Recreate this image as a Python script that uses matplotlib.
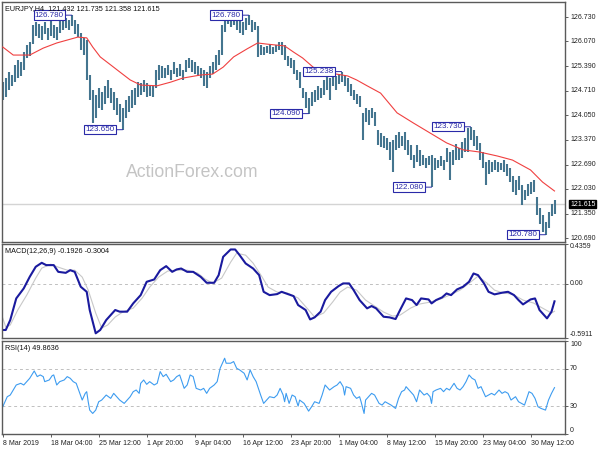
import numpy as np
import matplotlib
matplotlib.use('Agg')
import matplotlib.pyplot as plt
import matplotlib.transforms as mtransforms

plt.rcParams['font.family'] = ['Liberation Sans', 'DejaVu Sans']

# EURJPY H4 - high/low of every second bar (bar index step 2)
high = [124.95, 125.06, 125.23, 125.15, 125.42, 125.56, 125.50, 125.77, 125.97, 126.05,
        126.51, 126.59, 126.54, 126.48, 126.59, 126.43, 126.65, 126.51, 126.46, 126.65,
        126.73, 126.70, 126.65, 126.78, 126.65, 126.54, 126.29, 126.16, 126.10, 125.15,
        124.74, 124.60, 124.79, 124.68, 124.84, 125.01, 124.79, 124.68, 124.52, 124.35,
        124.24, 124.46, 124.57, 124.74, 124.79, 124.95, 124.92, 125.01, 124.92, 124.87,
        124.84, 125.28, 125.42, 125.39, 125.34, 125.42, 125.28, 125.50, 125.34, 125.45,
        125.28, 125.55, 125.61, 125.55, 125.50, 125.39, 125.34, 125.28, 125.23, 125.39,
        125.50, 125.69, 125.83, 126.51, 126.76, 126.78, 126.73, 126.70, 126.70, 126.65,
        126.59, 126.70, 126.78, 126.65, 126.59, 126.48, 125.96, 125.91, 125.94, 125.99,
        125.91, 125.96, 126.05, 126.05, 125.96, 125.66, 125.61, 125.56, 125.28, 125.23,
        124.79, 124.68, 124.52, 124.68, 124.74, 124.84, 124.79, 125.01, 125.15, 125.06,
        125.17, 125.12, 125.17, 125.24, 125.15, 125.06, 124.90, 124.74, 124.63, 124.57,
        124.11, 124.24, 124.19, 124.24, 124.13, 123.64, 123.56, 123.48, 123.42, 123.31,
        123.37, 123.51, 123.59, 123.48, 123.59, 123.37, 123.23, 122.96, 123.23, 123.10,
        122.96, 122.88, 122.93, 122.96, 122.88, 122.82, 122.93, 122.82, 123.15, 123.04,
        123.10, 123.26, 123.15, 123.31, 123.42, 123.70, 123.73, 123.64, 123.48, 123.29,
        123.04, 122.77, 122.82, 122.77, 122.82, 122.77, 122.74, 122.82, 122.71, 122.60,
        122.38, 122.27, 122.38, 122.14, 122.00, 122.17, 122.22, 122.27, 121.81, 121.51,
        121.32, 121.13, 121.40, 121.62, 121.735]
low = [124.46, 124.54, 124.74, 124.85, 124.95, 125.06, 125.12, 125.28, 125.61, 125.67,
       125.99, 126.21, 126.16, 126.10, 126.27, 126.10, 126.21, 126.16, 126.10, 126.29,
       126.37, 126.43, 126.37, 126.48, 126.27, 126.18, 125.83, 125.69, 125.01, 124.46,
       123.83, 123.97, 124.24, 124.19, 124.35, 124.52, 124.38, 124.19, 124.05, 123.86,
       123.65, 123.97, 124.13, 124.24, 124.32, 124.54, 124.60, 124.68, 124.54, 124.57,
       124.54, 124.79, 125.01, 125.06, 125.06, 125.15, 125.01, 125.17, 125.09, 125.12,
       125.01, 125.23, 125.34, 125.23, 125.17, 125.12, 125.06, 124.84, 124.79, 125.06,
       125.17, 125.28, 125.42, 125.69, 126.32, 126.54, 126.46, 126.51, 126.37, 126.29,
       126.24, 126.37, 126.51, 126.32, 126.37, 125.64, 125.69, 125.69, 125.75, 125.72,
       125.72, 125.77, 125.83, 125.69, 125.56, 125.39, 125.34, 125.17, 125.01, 124.79,
       124.52, 124.24, 124.09, 124.30, 124.41, 124.46, 124.52, 124.60, 124.74, 124.46,
       124.84, 124.74, 124.90, 124.95, 124.84, 124.68, 124.57, 124.46, 124.35, 124.27,
       123.37, 123.86, 123.78, 123.97, 123.75, 123.23, 123.18, 123.15, 123.10, 122.82,
       122.49, 123.10, 123.15, 123.20, 123.10, 122.96, 122.82, 122.60, 122.77, 122.66,
       122.69, 122.60, 122.69, 122.08, 122.55, 122.60, 122.66, 122.55, 122.77, 122.27,
       122.69, 122.82, 122.82, 122.88, 123.04, 123.04, 123.37, 123.20, 123.10, 122.82,
       122.60, 122.14, 122.44, 122.49, 122.55, 122.49, 122.55, 122.49, 122.38, 122.22,
       121.95, 121.87, 122.00, 121.59, 121.73, 121.84, 121.89, 121.95, 121.32, 121.07,
       120.85, 120.78, 120.96, 121.29, 121.358]
last_close = 121.615

# red moving average (bar index, value)
ma_bar = [0, 7, 18, 27, 36, 43, 50, 56, 60, 65, 72, 78, 85, 92, 103, 112, 120, 132, 140, 147,
          154, 163, 170, 176, 188, 194, 200, 207, 218, 230, 236, 243, 252, 263, 274, 285, 296,
          307, 318, 330, 340, 352, 360, 368]
ma_val = [125.91, 125.69, 125.69, 125.88, 126.02, 126.10, 126.18, 126.16, 125.91, 125.64,
          125.42, 125.23, 125.01, 124.87, 124.85, 124.95, 125.06, 125.145, 125.17, 125.36,
          125.64, 125.86, 126.02, 125.99, 125.94, 125.77, 125.61, 125.36, 125.20, 125.12,
          125.01, 124.85, 124.65, 124.11, 123.83, 123.56, 123.29, 123.10, 123.04, 122.93,
          122.82, 122.55, 122.22, 121.975]

# MACD(12,26,9)
macd_bar = [0, 2, 5, 9, 14, 18, 22, 26, 29, 34, 37, 42, 45, 48, 52, 56, 58, 62, 65, 69,
            75, 78, 83, 87, 92, 96, 101, 105, 109, 113, 116, 119, 123, 127, 132, 136, 141,
            144, 147, 152, 155, 158, 162, 167, 171, 174, 178, 183, 186, 189, 194, 197, 202,
            205, 208, 212, 215, 219, 224, 227, 231, 234, 238, 243, 246, 249, 254, 258, 262,
            265, 269, 273, 276, 279, 284, 286, 289, 293, 296, 299, 303, 307, 311, 314, 317,
            321, 324, 328, 333, 337, 341, 344, 347, 352, 355, 358, 363, 366, 368]
macd_val = [-0.504, -0.504, -0.396, -0.161, -0.052, 0.074, 0.183, 0.226, 0.201, 0.201,
            0.128, 0.117, 0.146, 0.128, -0.034, -0.089, -0.287, -0.540, -0.504, -0.396,
            -0.287, -0.305, -0.305, -0.215, -0.125, 0.020, 0.045, 0.146, 0.190, 0.128,
            0.154, 0.164, 0.128, 0.128, 0.074, 0.009, 0.009, 0.092, 0.291, 0.371,
            0.371, 0.309, 0.219, 0.164, 0.092, -0.089, -0.125, -0.114, -0.089, -0.107,
            -0.136, -0.233, -0.287, -0.389, -0.367, -0.305, -0.179, -0.089, -0.027, 0.002,
            0.002, -0.070, -0.179, -0.269, -0.244, -0.269, -0.360, -0.367, -0.385, -0.287,
            -0.161, -0.179, -0.233, -0.161, -0.172, -0.215, -0.179, -0.150, -0.107, -0.125,
            -0.063, -0.034, 0.020, 0.110, 0.092, 0.002, -0.089, -0.117, -0.099, -0.089,
            -0.125, -0.179, -0.226, -0.172, -0.161, -0.287, -0.378, -0.305, -0.1926]
signal_bar = [0, 2, 5, 10, 16, 22, 26, 32, 37, 43, 48, 53, 57, 62, 66, 70, 75, 80, 87, 93,
              98, 104, 110, 116, 123, 130, 135, 140, 146, 152, 156, 162, 167, 173, 177, 183,
              190, 197, 204, 208, 214, 220, 225, 230, 236, 242, 247, 254, 260, 265, 272, 278,
              285, 292, 298, 305, 312, 317, 323, 328, 334, 340, 347, 354, 360, 366, 368]
signal_val = [-0.374, -0.472, -0.450, -0.287, -0.125, 0.060, 0.168, 0.211, 0.179, 0.146,
              0.146, 0.071, -0.071, -0.320, -0.483, -0.450, -0.363, -0.309, -0.266, -0.157,
              -0.038, 0.071, 0.136, 0.146, 0.146, 0.114, 0.049, 0.005, 0.060, 0.233,
              0.331, 0.309, 0.222, 0.071, -0.038, -0.092, -0.103, -0.157, -0.287, -0.363,
              -0.320, -0.201, -0.092, -0.038, -0.071, -0.179, -0.233, -0.309, -0.353, -0.342,
              -0.266, -0.222, -0.201, -0.168, -0.125, -0.071, 0.016, 0.081, 0.005, -0.071,
              -0.103, -0.114, -0.179, -0.211, -0.266, -0.320, -0.3004]

# RSI(14)
rsi_bar = [0, 1, 3, 5, 7, 9, 12, 14, 16, 18, 21, 23, 25, 27, 28, 31, 33, 34, 36, 38,
           41, 43, 45, 47, 49, 51, 53, 55, 56, 57, 58, 60, 62, 64, 66, 69, 72, 74, 76, 78,
           81, 83, 85, 87, 89, 91, 92, 94, 96, 98, 101, 103, 105, 107, 109, 112, 114, 116, 118, 121,
           123, 125, 127, 129, 132, 134, 136, 138, 141, 143, 145, 148, 149, 152, 154, 156, 158, 161, 163, 165,
           167, 169, 172, 174, 176, 178, 181, 183, 185, 187, 188, 189, 191, 193, 195, 197, 198, 201, 203, 204,
           206, 208, 211, 213, 215, 217, 218, 221, 223, 225, 227, 228, 229, 232, 234, 236, 238, 239, 241, 242,
           244, 246, 248, 251, 253, 255, 257, 259, 262, 264, 266, 268, 269, 272, 274, 276, 278, 281, 283, 285,
           286, 287, 289, 292, 294, 296, 298, 301, 303, 305, 307, 309, 311, 313, 315, 317, 319, 322, 324, 326,
           328, 331, 333, 335, 337, 339, 342, 344, 346, 348, 351, 353, 355, 357, 359, 362, 363, 364, 366, 368]
rsi_val = [29.3, 32.9, 40.1, 41.9, 47.3, 52.7, 54.5, 52.7, 56.3, 59.9, 67.8, 61.7, 63.5, 61.7, 56.3, 58.1, 62.8, 63.5, 52.7, 56.3,
           58.1, 61.7, 59.9, 56.3, 54.5, 45.5, 36.5, 43.7, 45.5, 34.7, 25.7, 22.1, 25.7, 34.7, 36.5, 41.9, 38.3, 43.7, 40.1, 36.5,
           32.9, 36.5, 40.1, 45.5, 47.3, 43.7, 54.5, 58.1, 53.4, 56.3, 52.7, 54.5, 67.1, 61.7, 64.2, 56.3, 58.1, 61.7, 63.5, 49.1,
           52.7, 63.5, 61.7, 49.1, 47.3, 49.1, 43.7, 49.1, 52.7, 56.3, 70.7, 81.5, 76.1, 76.1, 77.9, 70.7, 68.9, 65.3, 58.1, 68.9,
           61.7, 56.3, 41.9, 32.9, 36.5, 40.1, 39.0, 41.9, 49.1, 41.9, 34.7, 43.7, 32.9, 41.9, 40.1, 30.0, 36.5, 32.9, 27.5, 24.6,
           29.3, 34.7, 32.9, 41.9, 52.7, 49.1, 47.3, 50.9, 52.7, 56.3, 50.9, 41.9, 50.9, 49.1, 41.9, 38.3, 40.1, 34.7, 22.1, 36.5,
           40.1, 43.7, 41.9, 32.9, 31.1, 34.7, 32.9, 31.1, 27.5, 38.3, 45.5, 47.3, 50.9, 45.5, 41.9, 34.7, 47.3, 41.9, 43.7, 40.1,
           32.9, 45.5, 47.3, 49.1, 45.5, 49.1, 47.3, 54.5, 49.1, 47.3, 50.9, 56.3, 63.5, 59.9, 58.1, 49.1, 50.9, 40.1, 41.9, 43.7,
           41.9, 47.3, 43.7, 45.5, 43.7, 36.5, 40.1, 34.7, 32.9, 31.1, 45.5, 43.7, 38.3, 29.3, 27.5, 25.7, 31.1, 36.5, 43.7, 49.86]

# swing high / low labels
swing_bar = [46, 80, 164, 204, 226, 286, 312, 362]
swing_price = [126.780, 123.650, 126.780, 124.090, 125.238, 122.080, 123.730, 120.780]

price_ticks = [126.730, 126.070, 125.390, 124.710, 124.050, 123.370, 122.690, 122.030, 121.350, 120.690]
macd_ticks = [0.4359, 0.0, -0.5911]
macd_tick_labels = ['0.4359', '0.00', '-0.5911']
rsi_ticks = [100, 70, 30, 0]
date_ticks = [0, 32, 64, 96, 128, 160, 192, 224, 256, 288, 320, 352]
date_labels = ['8 Mar 2019', '18 Mar 04:00', '25 Mar 12:00', '1 Apr 20:00', '9 Apr 04:00',
               '16 Apr 12:00', '23 Apr 20:00', '1 May 04:00', '8 May 12:00', '15 May 20:00',
               '23 May 04:00', '30 May 12:00']

bar_x = np.arange(len(high)) * 2

W, H = 600, 450
fig = plt.figure(figsize=(6, 4.5), dpi=100)
fig.patch.set_facecolor('white')

def panel(top, bottom):
    return fig.add_axes([2 / W, 1 - bottom / H, 563 / W, (bottom - top) / H])

ax1 = panel(2, 242)
ax2 = panel(243.5, 338)
ax3 = panel(341, 434)

for ax in (ax1, ax2, ax3):
    ax.set_xlim(-0.5, 375)
    for s in ax.spines.values():
        s.set_color('#5a5a5a')
        s.set_linewidth(1.0)
    ax.tick_params(axis='y', which='both', left=False, right=True, labelleft=False,
                   labelright=False, length=2.5, width=0.6, color='#444444', direction='out')

def right_label(ax, val, txt, va='center'):
    tr = mtransforms.blended_transform_factory(ax.transAxes, ax.transData)
    ax.text(1 + 5 / 563, val, txt, transform=tr, ha='left', va=va, fontsize=5.0,
            color='#222222', clip_on=False)

# main price panel
ax1.set_ylim(120.581, 127.14)
ax1.axhline(last_close, color='#d4d4d4', lw=1.0, zorder=1)
ax1.vlines(bar_x, low, high, color='#44758f', lw=1.5, zorder=2)
ax1.plot(ma_bar, ma_val, color='#f04040', lw=0.8, zorder=3)
ax1.set_yticks(price_ticks)
ax1.set_xticks([])
for p in price_ticks:
    right_label(ax1, p, f'{p:.3f}')
tr1 = mtransforms.blended_transform_factory(ax1.transAxes, ax1.transData)
ax1.text(1 + 5 / 563, last_close, f'{last_close:.3f}', transform=tr1, ha='left', va='center',
         fontsize=5.0, color='white', clip_on=False,
         bbox=dict(boxstyle='square,pad=0.12', fc='black', ec='black'))

for b, p in zip(swing_bar, swing_price):
    ax1.annotate(f'{p:.3f}', xy=(b, p), xytext=(-8, 0), textcoords='offset pixels',
                 ha='right', va='center', fontsize=5.8, color='#2a2aa8',
                 bbox=dict(boxstyle='square,pad=0.15', fc='white', ec='#2a2aa8', lw=0.8),
                 arrowprops=dict(arrowstyle='-', color='#2a2aa8', lw=0.7,
                                 shrinkA=0, shrinkB=0), zorder=5)

fig.text(5 / W, 1 - 10 / H, 'EURJPY,H4  121.432 121.735 121.358 121.615', fontsize=5.2,
         color='#111111', va='baseline', ha='left')
fig.text(192 / W, 1 - 177 / H, 'ActionForex.com', fontsize=12.7, color='#c4c4c4',
         ha='center', va='baseline', zorder=0)

# MACD panel
ax2.set_ylim(-0.5911, 0.4359)
ax2.axhline(0, color='#c0c0c0', lw=0.7, ls=(0, (3, 3)))
ax2.plot(signal_bar, signal_val, color='#c8c8c8', lw=0.8)
ax2.plot(macd_bar, macd_val, color='#1a1a9e', lw=1.5)
ax2.set_yticks(macd_ticks)
ax2.set_xticks([])
right_label(ax2, macd_ticks[0], macd_tick_labels[0], va='top')
right_label(ax2, macd_ticks[1], macd_tick_labels[1])
right_label(ax2, macd_ticks[2], macd_tick_labels[2], va='bottom')
fig.text(5 / W, 1 - 253 / H, 'MACD(12,26,9) -0.1926 -0.3004', fontsize=5.2,
         color='#111111', va='baseline', ha='left')

# RSI panel
ax3.set_ylim(0, 100)
ax3.axhline(70, color='#c0c0c0', lw=0.7, ls=(0, (3, 3)))
ax3.axhline(30, color='#c0c0c0', lw=0.7, ls=(0, (3, 3)))
ax3.plot(rsi_bar, rsi_val, color='#3d9cf0', lw=0.8)
ax3.set_yticks(rsi_ticks)
right_label(ax3, 100, '100', va='top')
right_label(ax3, 70, '70')
right_label(ax3, 30, '30')
right_label(ax3, 0, '0', va='bottom')
ax3.set_xticks(date_ticks)
ax3.set_xticklabels(date_labels, ha='left', fontsize=5.0, color='#222222')
ax3.tick_params(axis='x', length=2.5, width=0.6, color='#444444', pad=1.5)
fig.text(5 / W, 1 - 350 / H, 'RSI(14) 49.8636', fontsize=5.2,
         color='#111111', va='baseline', ha='left')

fig.savefig('out.png', dpi=100)
